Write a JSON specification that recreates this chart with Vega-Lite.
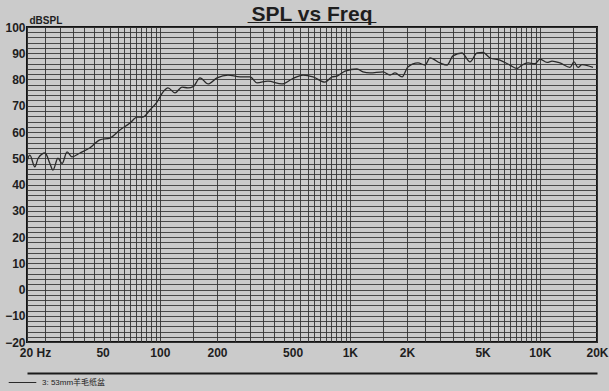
{
  "$schema": "https://vega.github.io/schema/vega-lite/v6.json",
  "width": 570,
  "height": 315,
  "autosize": {"type": "none"},
  "padding": {"left": 27, "top": 27, "right": 12, "bottom": 49},
  "background": "#cbcbcb",
  "title": {"text": "SPL vs Freq", "subtitle": "___________", "fontSize": 21, "font": "Liberation Sans", "fontWeight": "bold", "color": "#1e1e1e", "subtitleFont": "Liberation Sans", "subtitleFontSize": 21, "subtitleFontWeight": "bold", "subtitleColor": "#1e1e1e", "subtitlePadding": -22, "anchor": "middle", "offset": -11},
  "config": {"view": {"stroke": "#151515", "strokeWidth": 2}},
  "data": {"values": [
    {"freq": 20, "spl": 49}, {"freq": 20.7, "spl": 51.2}, {"freq": 22.0, "spl": 46.7}, {"freq": 22.9, "spl": 50},
    {"freq": 24.9, "spl": 52}, {"freq": 26.4, "spl": 48}, {"freq": 27.4, "spl": 45.5}, {"freq": 29.1, "spl": 50},
    {"freq": 30.6, "spl": 48}, {"freq": 32.5, "spl": 52.4}, {"freq": 34.5, "spl": 50.5}, {"freq": 38.0, "spl": 52},
    {"freq": 42.9, "spl": 54}, {"freq": 48.4, "spl": 57}, {"freq": 54.7, "spl": 57.7}, {"freq": 61.7, "spl": 60.8},
    {"freq": 69.7, "spl": 63.4}, {"freq": 75.9, "spl": 65.7}, {"freq": 81.6, "spl": 65.7}, {"freq": 88.8, "spl": 68.4},
    {"freq": 96.6, "spl": 71.4}, {"freq": 103.9, "spl": 75.2}, {"freq": 110.4, "spl": 76.8}, {"freq": 120.2, "spl": 74.9},
    {"freq": 130.9, "spl": 77.1}, {"freq": 140.7, "spl": 76.8}, {"freq": 150, "spl": 77.3}, {"freq": 162.8, "spl": 80.6},
    {"freq": 179.4, "spl": 78.3}, {"freq": 200, "spl": 80.6}, {"freq": 228.5, "spl": 81.7}, {"freq": 264.3, "spl": 81},
    {"freq": 298.5, "spl": 81}, {"freq": 324.8, "spl": 78.7}, {"freq": 370.9, "spl": 79.4}, {"freq": 439.8, "spl": 78.3},
    {"freq": 496.6, "spl": 80.2}, {"freq": 567.2, "spl": 81.7}, {"freq": 640.4, "spl": 81}, {"freq": 740.3, "spl": 79},
    {"freq": 806, "spl": 81}, {"freq": 857, "spl": 81.3}, {"freq": 944, "spl": 83.2}, {"freq": 1091, "spl": 84},
    {"freq": 1173, "spl": 82.9}, {"freq": 1277, "spl": 82.5}, {"freq": 1495, "spl": 82.9}, {"freq": 1629, "spl": 81.7},
    {"freq": 1730, "spl": 82.5}, {"freq": 1884, "spl": 81}, {"freq": 2023, "spl": 84.8}, {"freq": 2285, "spl": 86.3},
    {"freq": 2489, "spl": 85.5}, {"freq": 2643, "spl": 88.2}, {"freq": 2985, "spl": 86.3}, {"freq": 3248, "spl": 85.5},
    {"freq": 3491, "spl": 89}, {"freq": 3892, "spl": 90.1}, {"freq": 4291, "spl": 86.7}, {"freq": 4670, "spl": 90.1},
    {"freq": 5024, "spl": 90.3}, {"freq": 5472, "spl": 88.2}, {"freq": 6167, "spl": 87.4}, {"freq": 6964, "spl": 85.5},
    {"freq": 7588, "spl": 84.2}, {"freq": 8054, "spl": 85.5}, {"freq": 8667, "spl": 86.3}, {"freq": 9440, "spl": 86},
    {"freq": 10024, "spl": 87.8}, {"freq": 10920, "spl": 86.5}, {"freq": 11594, "spl": 87}, {"freq": 12771, "spl": 86.3},
    {"freq": 14413, "spl": 84.6}, {"freq": 15136, "spl": 86.7}, {"freq": 15887, "spl": 84.6}, {"freq": 16679, "spl": 85.7},
    {"freq": 19053, "spl": 84.6}
  ]},
  "layer": [
    {
      "mark": {"type": "line", "strokeWidth": 1.3, "interpolate": "monotone", "clip": true},
      "encoding": {
        "x": {
          "field": "freq", "type": "quantitative",
          "scale": {"type": "log", "domain": [20, 20000], "nice": false},
          "axis": {
            "orient": "bottom",
            "title": null,
            "tickCount": 500,
            "values": [20,25,30,35,40,45,50,55,60,65,70,75,80,85,90,95,100,150,200,250,300,350,400,450,500,550,600,650,700,750,800,850,900,950,1000,1500,2000,2500,3000,3500,4000,4500,5000,5500,6000,6500,7000,7500,8000,8500,9000,9500,10000,15000,20000],
            "labelExpr": "datum.value == 20 ? '20  Hz' : datum.value == 50 ? '50' : datum.value == 100 ? '100' : datum.value == 200 ? '200' : datum.value == 500 ? '500' : datum.value == 1000 ? '1K' : datum.value == 2000 ? '2K' : datum.value == 5000 ? '5K' : datum.value == 10000 ? '10K' : datum.value == 20000 ? '20K' : ''",
            "labelOffset": {"condition": {"test": "datum.value == 20", "value": 8}, "value": 0},
            "labelOverlap": false,
            "labelFlush": false,
            "labelFont": "Liberation Sans",
            "labelFontWeight": "bold",
            "labelFontSize": 12,
            "labelColor": "#1e1e1e",
            "labelPadding": 5,
            "ticks": false,
            "domain": false,
            "grid": true,
            "gridColor": "#333333",
            "gridWidth": 1,
            "gridOpacity": 0.9
          }
        },
        "y": {
          "field": "spl", "type": "quantitative",
          "scale": {"domain": [-20, 100], "nice": false, "zero": false},
          "axis": {
            "title": "dBSPL",
            "titleAngle": 0,
            "titleAlign": "left",
            "titleBaseline": "bottom",
            "titleX": 2,
            "titleY": -2,
            "titleFont": "Liberation Sans",
            "titleFontSize": 10,
            "titleFontWeight": "bold",
            "titleColor": "#1e1e1e",
            "tickCount": 500,
            "values": [-20,-18,-16,-14,-12,-10,-8,-6,-4,-2,0,2,4,6,8,10,12,14,16,18,20,22,24,26,28,30,32,34,36,38,40,42,44,46,48,50,52,54,56,58,60,62,64,66,68,70,72,74,76,78,80,82,84,86,88,90,92,94,96,98,100],
            "labelExpr": "datum.value % 10 == 0 ? format(datum.value, 'd') : ''",
            "labelOverlap": false,
            "labelFlush": false,
            "labelFont": "Liberation Sans",
            "labelFontWeight": "bold",
            "labelFontSize": 12,
            "labelColor": "#1e1e1e",
            "labelPadding": 2,
            "ticks": false,
            "domain": false,
            "grid": true,
            "gridColor": "#333333",
            "gridWidth": 1,
            "gridOpacity": 0.85
          }
        },
        "color": {
          "datum": "3: 53mm羊毛纸盆",
          "scale": {"range": ["#2a2a2a"]},
          "legend": {
            "orient": "none",
            "legendX": -19,
            "legendY": 341,
            "title": null,
            "symbolType": "stroke",
            "symbolSize": 760,
            "symbolStrokeWidth": 1,
            "labelFont": "Liberation Sans, Noto Sans CJK SC",
            "labelFontSize": 8,
            "labelColor": "#222222",
            "labelOffset": 5
          }
        }
      }
    },
    {
      "mark": {"type": "line", "strokeOpacity": 0},
      "encoding": {
        "x": {
          "field": "freq", "type": "quantitative",
          "scale": {"type": "log", "domain": [20, 20000], "nice": false},
          "axis": {"orient": "bottom", "offset": 31, "title": null, "labels": false, "ticks": false, "grid": false, "domain": true, "domainColor": "#1a1a1a", "domainWidth": 2}
        },
        "y": {"field": "spl", "type": "quantitative", "scale": {"domain": [-20, 100], "nice": false, "zero": false}}
      }
    }
  ],
  "resolve": {"axis": {"x": "independent"}}
}
